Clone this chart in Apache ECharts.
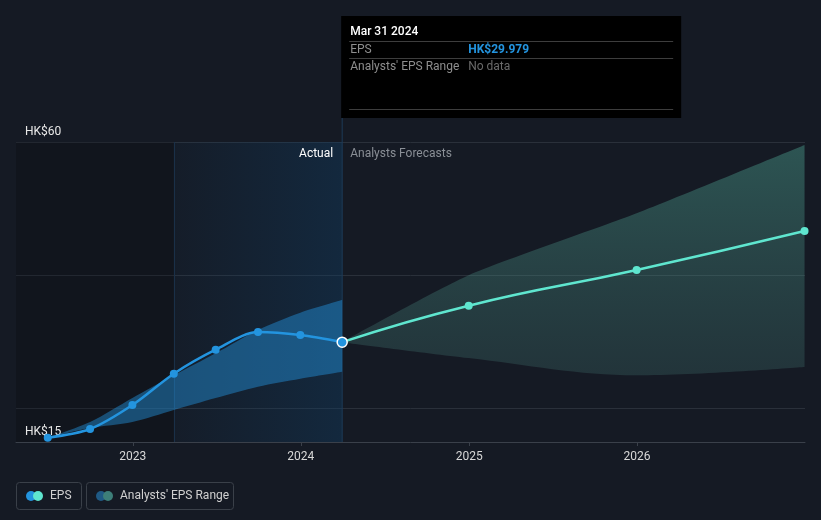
<!DOCTYPE html>
<html><head><meta charset="utf-8">
<script src="https://cdn.jsdelivr.net/npm/echarts@6/dist/echarts.min.js"></script>
<style>html,body{margin:0;padding:0;background:#151a24;}#c{width:821px;height:520px;}</style>
</head><body><div id="c"></div>
<script>
const actualDates = ['2022-06-30','2022-09-30','2022-12-31','2023-03-31','2023-06-30','2023-09-30','2023-12-31','2024-03-31'];
const actualEps = [15.65,16.95,20.55,25.25,28.85,31.5,31.05,29.979];
const actualLow = [15.65,17.1,18.0,19.8,21.6,23.3,24.5,25.55];
const actualHigh = [15.65,18.0,21.6,25.0,28.3,31.8,34.4,36.3];
const forecastDates = ['2024-03-31','2024-12-31','2025-12-31','2026-12-31'];
const forecastEps = [29.979,35.45,40.8,46.65];
const forecastLow = [29.979,27.6,25.0,26.25];
const forecastHigh = [29.979,40.0,49.3,59.55];
const yearTicks = ['2023-01-01','2024-01-01','2025-01-01','2026-01-01'];
const yLabelValues = [15,60];
const yGridValues = [20,40,60];
const xMin = '2022-04-22';
const xMax = '2027-01-01';
const pastStart = '2023-03-31';
const nowDate = '2024-03-31';

const ts = d => new Date(d + 'T00:00:00Z').getTime();
const pairs = (ds, vs) => ds.map((d,i)=>[ts(d), vs[i]]);
const diff = (ds, hi, lo) => ds.map((d,i)=>[ts(d), +(hi[i]-lo[i]).toFixed(3)]);

const chart = echarts.init(document.getElementById('c'), null, {renderer:'canvas', useUTC: true});
const font = 'Roboto, "Noto Sans", sans-serif';
const YEAR = 365.25 * 24 * 3600 * 1000;

const option = {
  useUTC: true,
  backgroundColor: '#151a24',
  animation: false,
  grid: {left: 16, right: 16, top: 142, bottom: 78},
  xAxis: {
    type: 'time', min: ts(xMin), max: ts(xMax),
    minInterval: YEAR * 0.9, maxInterval: YEAR * 1.1,
    axisLine: {show: true, lineStyle: {color: '#3a404a', width: 1}},
    axisTick: {show: true, length: 4, lineStyle: {color: '#3a404a'}},
    axisLabel: {color: '#d8d8d8', fontSize: 12, fontFamily: font, margin: 9, showMinLabel: false, showMaxLabel: false,
      formatter: v => { const d = new Date(v); return (d.getUTCMonth() === 0 && d.getUTCDate() === 1 && d.getUTCFullYear() < 2027) ? String(d.getUTCFullYear()) : ''; }},
    splitLine: {show: false}
  },
  yAxis: {
    type: 'value', min: 15, max: 60,
    axisLine: {show: false},
    axisTick: {show: false, customValues: yGridValues},
    axisLabel: {customValues: yLabelValues, inside: true, color: '#e8e8e8', fontSize: 12, fontFamily: font,
      margin: 9, verticalAlign: 'bottom', padding: [0,0,4,0], formatter: v => 'HK$' + v},
    splitLine: {show: true, lineStyle: {color: '#2a303a', width: 1}}
  },
  series: [
    {
      name: 'bg', type: 'line', data: [], silent: true, z: 0,
      markArea: {silent: true, z: 0, data: [
        [{xAxis: ts(xMin), itemStyle: {color: 'rgba(0,0,0,0.17)'}}, {xAxis: ts(pastStart)}],
        [{xAxis: ts(pastStart), itemStyle: {color: {type: 'linear', x: 0, y: 0, x2: 1, y2: 0,
          colorStops: [{offset: 0, color: 'rgba(16,64,104,0.07)'}, {offset: 1, color: 'rgba(16,64,104,0.38)'}]}}}, {xAxis: ts(nowDate)}]
      ]},
      markLine: {silent: true, z: 0, symbol: 'none', label: {show: false},
        lineStyle: {color: '#1a3048', width: 1, type: 'solid'},
        data: [{xAxis: ts(pastStart)}]}
    },
    {name: 'actLow', type: 'line', stack: 'a', data: pairs(actualDates, actualLow), smooth: 0.3,
      symbol: 'none', lineStyle: {opacity: 0}, silent: true},
    {name: 'actBand', type: 'line', stack: 'a', data: diff(actualDates, actualHigh, actualLow), smooth: 0.3,
      symbol: 'none', lineStyle: {opacity: 0}, areaStyle: {color: 'rgba(35,148,223,0.45)', opacity: 1}, silent: true},
    {name: 'fcLow', type: 'line', stack: 'f', data: pairs(forecastDates, forecastLow), smooth: 0.35,
      symbol: 'none', lineStyle: {opacity: 0}, silent: true},
    {name: 'fcBand', type: 'line', stack: 'f', data: diff(forecastDates, forecastHigh, forecastLow), smooth: 0.2,
      symbol: 'none', lineStyle: {opacity: 0}, silent: true,
      areaStyle: {opacity: 1, color: {type: 'linear', x: 0, y: 0, x2: 0, y2: 1,
        colorStops: [{offset: 0, color: 'rgba(78,166,148,0.42)'}, {offset: 1, color: 'rgba(73,130,124,0.25)'}]}}},
    {name: 'Forecast EPS', type: 'line', data: pairs(forecastDates, forecastEps), smooth: 0.5, z: 3,
      lineStyle: {color: '#5fe6cf', width: 2.5}, itemStyle: {color: '#5fe6cf'},
      symbol: 'circle', symbolSize: (v, p) => p.dataIndex === 0 ? 0 : 8, showAllSymbol: true},
    {name: 'EPS', type: 'line', data: pairs(actualDates, actualEps), smooth: 0.3, z: 3,
      lineStyle: {color: '#2394df', width: 2.5}, itemStyle: {color: '#2394df'},
      symbol: 'circle', symbolSize: 8, showAllSymbol: true,
      markPoint: {silent: true, symbol: 'circle', symbolSize: 10, label: {show: false},
        itemStyle: {color: '#2394df', borderColor: '#ffffff', borderWidth: 1.5},
        data: [{coord: [ts(nowDate), actualEps[actualEps.length-1]]}]}}
  ]
};
chart.setOption(option);

const nowX = chart.convertToPixel({gridIndex: 0}, [ts(nowDate), 15])[0];
const topY = chart.convertToPixel({gridIndex: 0}, [ts(nowDate), 60])[1];
const botY = chart.convertToPixel({gridIndex: 0}, [ts(nowDate), 15])[1];
const tipL = nowX - 1, tipT = 16, tipW = 340, tipH = 102;

chart.setOption({
  graphic: [
    {type: 'line', shape: {x1: nowX, y1: tipT + tipH, x2: nowX, y2: botY}, style: {stroke: '#1d3a58', lineWidth: 1}, z: 1, silent: true},
    {type: 'text', x: nowX - 9, y: topY + 12, style: {text: 'Actual', fill: '#ffffff', font: '12px ' + font, align: 'right', verticalAlign: 'middle'}},
    {type: 'text', x: nowX + 8, y: topY + 12, style: {text: 'Analysts Forecasts', fill: '#8a8f96', font: '12px ' + font, align: 'left', verticalAlign: 'middle'}},
    {type: 'group', z: 100, children: [
      {type: 'rect', shape: {x: tipL, y: tipT, width: tipW, height: tipH}, style: {fill: '#000000'}},
      {type: 'text', x: tipL + 9, y: tipT + 16, style: {text: 'Mar 31 2024', fill: '#ffffff', font: '500 12px ' + font, verticalAlign: 'middle'}},
      {type: 'line', shape: {x1: tipL + 8, y1: tipT + 25.5, x2: tipL + 332, y2: tipT + 25.5}, style: {stroke: '#3d3d3d', lineWidth: 1}},
      {type: 'text', x: tipL + 9, y: tipT + 34, style: {text: 'EPS', fill: '#8e8e8e', font: '12px ' + font, verticalAlign: 'middle'}},
      {type: 'text', x: tipL + 127, y: tipT + 34, style: {text: 'HK$29.979', fill: '#2394df', font: 'bold 12px ' + font, verticalAlign: 'middle'}},
      {type: 'line', shape: {x1: tipL + 8, y1: tipT + 42.5, x2: tipL + 332, y2: tipT + 42.5}, style: {stroke: '#3d3d3d', lineWidth: 1}},
      {type: 'text', x: tipL + 9, y: tipT + 51, style: {text: "Analysts' EPS Range", fill: '#8e8e8e', font: '12px ' + font, verticalAlign: 'middle'}},
      {type: 'text', x: tipL + 127, y: tipT + 51, style: {text: 'No data', fill: '#6a6a6a', font: '12px ' + font, verticalAlign: 'middle'}},
      {type: 'line', shape: {x1: tipL + 8, y1: tipT + 93.5, x2: tipL + 332, y2: tipT + 93.5}, style: {stroke: '#3d3d3d', lineWidth: 1}}
    ]},
    {type: 'group', x: 16, y: 482, children: [
      {type: 'rect', shape: {x: 0.5, y: 0.5, width: 65, height: 27, r: 3}, style: {fill: 'none', stroke: '#3a4049', lineWidth: 1}},
      {type: 'circle', shape: {cx: 15, cy: 14, r: 5}, style: {fill: '#2394df'}},
      {type: 'circle', shape: {cx: 22, cy: 14, r: 5}, style: {fill: '#5fe6cf'}},
      {type: 'text', x: 34, y: 14, style: {text: 'EPS', fill: '#d0d0d0', font: '12px ' + font, verticalAlign: 'middle'}},
      {type: 'rect', shape: {x: 70.5, y: 0.5, width: 147, height: 27, r: 3}, style: {fill: 'none', stroke: '#3a4049', lineWidth: 1}},
      {type: 'circle', shape: {cx: 85, cy: 14, r: 5}, style: {fill: '#1f5a85'}},
      {type: 'circle', shape: {cx: 92, cy: 14, r: 5}, style: {fill: '#3d7f79'}},
      {type: 'text', x: 104, y: 14, style: {text: "Analysts' EPS Range", fill: '#d0d0d0', font: '12px ' + font, verticalAlign: 'middle'}}
    ]}
  ]
});
</script></body></html>
